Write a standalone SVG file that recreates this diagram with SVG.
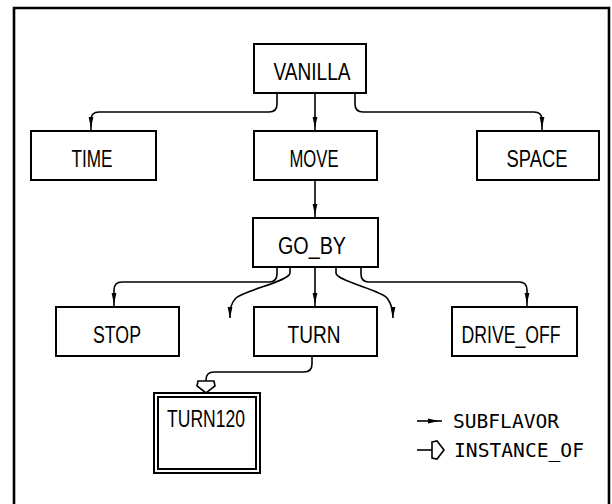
<svg xmlns="http://www.w3.org/2000/svg" width="612" height="504" viewBox="0 0 612 504">
<style>
.box{fill:#fff;stroke:#000;stroke-width:2}
.lbl{font-family:"Liberation Sans",Arial,sans-serif;font-size:23.5px;fill:#000;text-anchor:middle}
.leg{font-family:"DejaVu Sans Mono","Liberation Mono",monospace;font-size:19px;fill:#000}
.sub{fill:none;stroke:#000;stroke-width:1.6;marker-end:url(#arr)}
.dang{fill:none;stroke:#000;stroke-width:1.6;marker-end:url(#arrTip)}
.inst{fill:none;stroke:#000;stroke-width:1.6;marker-end:url(#hollow)}
</style>
<defs>
<marker id="arr" markerUnits="userSpaceOnUse" markerWidth="16" markerHeight="6" viewBox="0 0 16 6" refX="14" refY="3" orient="auto" overflow="visible">
<path d="M0,0.6 L11,3 L0,5.4 z" fill="#000"/>
</marker>
<marker id="arrTip" markerUnits="userSpaceOnUse" markerWidth="12" markerHeight="6" viewBox="0 0 12 6" refX="11" refY="3" orient="auto" overflow="visible">
<path d="M0,0.6 L11,3 L0,5.4 z" fill="#000"/>
</marker>
<marker id="hollow" markerUnits="userSpaceOnUse" markerWidth="14" markerHeight="20" viewBox="0 0 14 20" refX="0" refY="10" orient="auto" overflow="visible">
<path d="M0,2 L5,1 L12,10 L5,19 L0,18 z" fill="#fff" stroke="#000" stroke-width="1.6"/>
</marker>
</defs>
<path id="frame" d="M14,510 V8 H609 V510" fill="none" stroke="#000" stroke-width="2.6"/>
<g id="connectors">
<path class="sub" d="M277,93 V104 Q277,112 269,112 H99 Q91,112 91,120 V131"/>
<path class="sub" d="M315,93 V131"/>
<path class="sub" d="M355,93 V104 Q355,112 363,112 H534 Q542,112 542,120 V131"/>
<path class="sub" d="M315,180 V218"/>
<path class="sub" d="M277,267 V274 Q277,282 269,282 H122 Q114,282 114,290 V307"/>
<path class="sub" d="M315,267 V307"/>
<path class="sub" d="M361,267 V274 Q361,282 369,282 H519 Q527,282 527,290 V307"/>
<path class="dang" d="M290,267 V273 C290,281 245,290 236,298 C231,303 230,308 230,318"/>
<path class="dang" d="M336,267 V273 C336,281 381,290 387,298 C391,303 393,308 393,318"/>
<path class="inst" d="M312,356 V364 Q312,372 304,372 H214 Q206,372 206,380 V381"/>
</g>
<g id="VANILLA"><rect class="box" x="254" y="44" width="112" height="49"/><text class="lbl" x="312" y="79.5" textLength="77" lengthAdjust="spacingAndGlyphs">VANILLA</text></g>
<g id="TIME"><rect class="box" x="31" y="131" width="125" height="49"/><text class="lbl" x="92" y="166.5" textLength="41" lengthAdjust="spacingAndGlyphs">TIME</text></g>
<g id="MOVE"><rect class="box" x="254" y="131" width="123" height="49"/><text class="lbl" x="314" y="166.5" textLength="49" lengthAdjust="spacingAndGlyphs">MOVE</text></g>
<g id="SPACE"><rect class="box" x="477" y="131" width="122" height="49"/><text class="lbl" x="537" y="166.5" textLength="61" lengthAdjust="spacingAndGlyphs">SPACE</text></g>
<g id="GO_BY"><rect class="box" x="253" y="218" width="125" height="49"/><text class="lbl" x="312" y="253.5" textLength="68" lengthAdjust="spacingAndGlyphs">GO_BY</text></g>
<g id="STOP"><rect class="box" x="56" y="307" width="123" height="49"/><text class="lbl" x="117" y="342.5" textLength="48" lengthAdjust="spacingAndGlyphs">STOP</text></g>
<g id="TURN"><rect class="box" x="254" y="307" width="123" height="49"/><text class="lbl" x="314" y="342.5" textLength="53" lengthAdjust="spacingAndGlyphs">TURN</text></g>
<g id="DRIVE_OFF"><rect class="box" x="452" y="307" width="125" height="49"/><text class="lbl" x="511" y="342.5" textLength="99" lengthAdjust="spacingAndGlyphs">DRIVE_OFF</text></g>
<g id="TURN120"><rect class="box" x="154" y="393" width="106" height="80"/><rect class="box" x="158" y="397" width="98" height="72" stroke-width="1.6"/><text class="lbl" x="206" y="426.5" textLength="78" lengthAdjust="spacingAndGlyphs">TURN120</text></g>
<g id="legend">
<path class="sub" d="M417,421 H442"/>
<text class="leg" x="453" y="428" textLength="106" lengthAdjust="spacingAndGlyphs">SUBFLAVOR</text>
<path class="inst" d="M417,450 H432"/>
<text class="leg" x="454" y="457" textLength="130" lengthAdjust="spacingAndGlyphs">INSTANCE_OF</text>
</g>
</svg>
